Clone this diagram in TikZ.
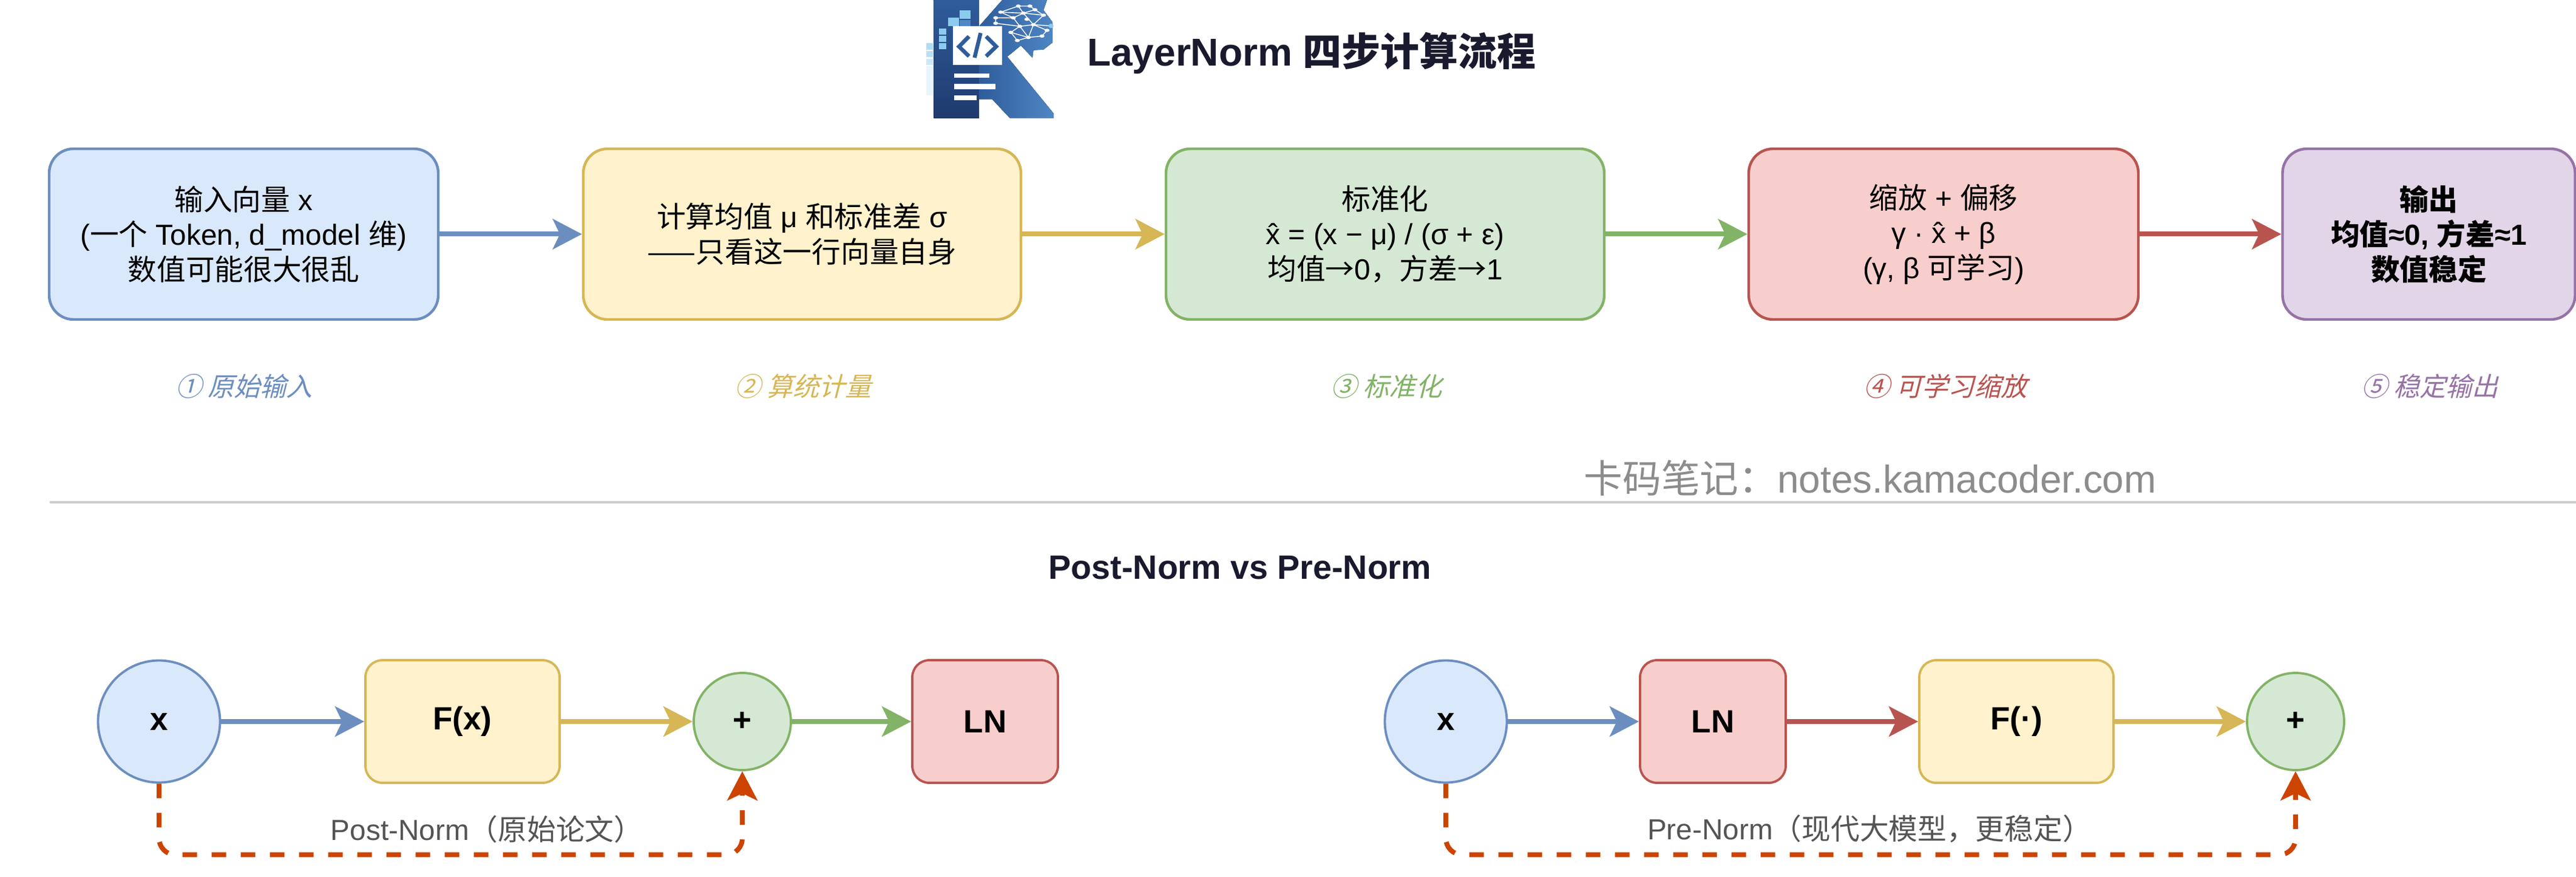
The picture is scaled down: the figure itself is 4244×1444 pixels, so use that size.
\documentclass[tikz,border=0pt]{standalone}
\usepackage{fontspec}
\usetikzlibrary{arrows.meta}
\setmainfont{Liberation Sans}
\newfontfamily\cjk{Noto Sans CJK SC}
\newfontfamily\cjkslant[FakeSlant=0.25]{Noto Sans CJK SC}

\definecolor{BlueFill}{HTML}{DAE8FC}
\definecolor{BlueLine}{HTML}{6C8EBF}
\definecolor{YellowFill}{HTML}{FFF2CC}
\definecolor{YellowLine}{HTML}{D6B656}
\definecolor{GreenFill}{HTML}{D5E8D4}
\definecolor{GreenLine}{HTML}{82B366}
\definecolor{RedFill}{HTML}{F8CECC}
\definecolor{RedLine}{HTML}{B85450}
\definecolor{PurpleFill}{HTML}{E1D5E7}
\definecolor{PurpleLine}{HTML}{9673A6}
\definecolor{TitleInk}{HTML}{1A1A2E}
\definecolor{SkipLine}{HTML}{CC4400}
\definecolor{LogoDeep}{HTML}{1F3A6E}
\definecolor{LogoMid}{HTML}{2F5C9B}
\definecolor{LogoLight}{HTML}{4F86C4}
\definecolor{LogoSky}{HTML}{8CCBF0}

\tikzset{
	BigBox/.style={draw=#1Line, fill=#1Fill, line width=1.1pt, rounded corners=10pt, inner sep=0pt, align=center,
		minimum height=70.25pt, font=\fontsize{11.93}{14.4}\selectfont},
	SmallBox/.style={draw=#1Line, fill=#1Fill, line width=0.95pt, rounded corners=7pt, inner sep=0pt,
		minimum height=50.5pt, font=\fontsize{13.25}{15.9}\selectfont\bfseries},
	RoundNode/.style={draw=#1Line, fill=#1Fill, line width=0.95pt, circle, inner sep=0pt,
		font=\fontsize{13.25}{15.9}\selectfont\bfseries},
	StepNote/.style={text=#1Line, font=\fontsize{10.8}{13}\selectfont\cjkslant},
	FlowArrow/.style={draw=#1Line, line width=2pt, -{Stealth[length=12pt, width=12.4pt, inset=2.9pt]}},
	SkipArrow/.style={draw=SkipLine, line width=2pt, dash pattern=on 6pt off 6pt, rounded corners=6.75pt,
		-{Stealth[length=12pt, width=12.4pt, inset=2.9pt]}},
	SkipNote/.style={text=black!67, font=\fontsize{11.93}{14.4}\selectfont},
}

\begin{document}
\begin{tikzpicture}[x=0.25pt, y=-0.25pt]
	\useasboundingbox (0,0) rectangle (4244,1444);

	% Logo
	\begin{scope}[shift={(1400,0)}, xscale=0.829, yscale=0.3333]
		\foreach \ya/\yb/\shade in {213/245/70, 252/283/60, 290/320/45, 327/470/20} {
			\fill[LogoSky!\shade!white] (152,\ya) rectangle (165,\yb);
		}
		\fill[top color=LogoMid, bottom color=LogoDeep] (167,0) rectangle (257,583);
		\fill[left color=LogoMid, right color=LogoLight]
			(303,0) -- (392,0) -- (385,50) -- (403,110) -- (403,210) -- (385,245) -- (365,248) -- (363,285)
			-- (340,225) -- (313,280) -- (405,560) -- (405,583) -- (318,583) -- (283,490) -- (257,490) -- (257,130) -- cycle;
		\fill[LogoSky] (218,50) rectangle (240,92);
		\fill[LogoLight] (218,98) rectangle (240,128);
		\fill[LogoSky] (195,88) rectangle (217,130);
		\foreach \ya/\yb in {142/172, 178/208, 214/244} {
			\fill[LogoSky] (177,\ya) rectangle (192,\yb);
		}
		\fill[white] (205,130) rectangle (303,320);
		\draw[LogoMid, line width=1.6pt] (237,180) -- (217,230) -- (237,278);
		\draw[LogoMid, line width=1.6pt] (260,163) -- (248,285);
		\draw[LogoMid, line width=1.6pt] (271,180) -- (291,230) -- (271,278);
		\fill[white] (207,362) rectangle (278,385);
		\fill[white] (207,415) rectangle (290,440);
		\fill[white] (207,470) rectangle (252,495);
		\draw[white, line width=0.35pt]
			(335,30) -- (300,60) -- (325,88) -- (290,88) -- (290,115) -- (338,130) -- (320,160) -- (333,200)
			(335,30) -- (358,30) -- (368,48) -- (385,75) -- (365,122) -- (392,150) -- (382,178) -- (355,185) -- (333,200)
			(335,30) -- (345,65) -- (325,88) -- (338,130) -- (355,185) -- (365,122) -- (338,130)
			(368,48) -- (345,65) -- (385,75) (345,65) -- (365,122) -- (400,128) (300,60) -- (345,65) (320,160) -- (355,185);
		\foreach \px/\py in {335/30, 358/30, 368/48, 300/60, 345/65, 385/75, 325/88, 290/88, 352/95, 290/115,
			338/130, 365/122, 392/150, 320/160, 355/185, 382/178, 333/200} {
			\fill[white] (\px,\py) ellipse (5 and 8);
		}
		\fill[LogoSky] (400,128) ellipse (5 and 11);
	\end{scope}

	% Titles
	\node[text=TitleInk, font=\fontsize{16}{19.2}\selectfont\bfseries] (MainTitle) at (2161,87) {LayerNorm {\cjk 四步计算流程}};
	\node[text=TitleInk, font=\fontsize{13.9}{16.7}\selectfont\bfseries] (SubTitle) at (2043,935) {Post-Norm vs Pre-Norm};
	\node[text=black!45, font=\fontsize{15.95}{19.1}\selectfont] (WaterMark) at (3081,787) {{\cjk 卡码笔记：}notes.kamacoder.com};

	% Five steps
	\node[BigBox=Blue, minimum width=160.25pt] (StepInput) at (401.5,385.5) {{\cjk 输入向量} x\\({\cjk 一个} Token, d\_model {\cjk 维})\\{\cjk 数值可能很大很乱}};
	\node[BigBox=Yellow, minimum width=180.25pt] (StepStats) at (1321.5,385.5) {{\cjk 计算均值} μ {\cjk 和标准差} σ\\{\cjk ——只看这一行向量自身}};
	\node[BigBox=Green, minimum width=180.5pt] (StepNorm) at (2282,385.5) {{\cjk 标准化}\\x̂ = (x − μ) / (σ + ε)\\{\cjk 均值→}0{\cjk ，方差→}1};
	\node[BigBox=Red, minimum width=160.5pt] (StepScale) at (3202,385.5) {{\cjk 缩放} + {\cjk 偏移}\\γ · x̂ + β\\(γ, β {\cjk 可学习})};
	\node[BigBox=Purple, minimum width=120.5pt, font=\fontsize{11.93}{14.4}\selectfont\bfseries] (StepOutput) at (4001.5,385.5) {{\cjk 输出}\\{\cjk 均值}≈0, {\cjk 方差}≈1\\{\cjk 数值稳定}};
	\draw[FlowArrow=Blue] (StepInput) -- (StepStats);
	\draw[FlowArrow=Yellow] (StepStats) -- (StepNorm);
	\draw[FlowArrow=Green] (StepNorm) -- (StepScale);
	\draw[FlowArrow=Red] (StepScale) -- (StepOutput);

	\node[StepNote=Blue] (NoteInput) at (402,636) {① 原始输入};
	\node[StepNote=Yellow] (NoteStats) at (1323,636) {② 算统计量};
	\node[StepNote=Green] (NoteNorm) at (2284,636) {③ 标准化};
	\node[StepNote=Red] (NoteScale) at (3205,636) {④ 可学习缩放};
	\node[StepNote=Purple] (NoteOutput) at (4003,636) {⑤ 稳定输出};

	% Divider
	\coordinate (RuleLeft) at (82,827);
	\coordinate (RuleRight) at (4244,827);
	\draw[black!20, line width=0.9pt] (RuleLeft) -- (RuleRight);

	% Post-Norm
	\node[RoundNode=Blue, minimum size=50.25pt] (PostX) at (262,1188) {x};
	\node[SmallBox=Yellow, minimum width=80pt] (PostF) at (762,1188) {F(x)};
	\node[RoundNode=Green, minimum size=40pt] (PostAdd) at (1223,1188) {+};
	\node[SmallBox=Red, minimum width=60pt] (PostLN) at (1623,1188) {LN};
	\draw[FlowArrow=Blue] (PostX) -- (PostF);
	\draw[FlowArrow=Yellow] (PostF) -- (PostAdd);
	\draw[FlowArrow=Green] (PostAdd) -- (PostLN);
	\draw[SkipArrow] (PostX.south) -- ++(0,117) -| (PostAdd.south);
	\node[SkipNote] (PostNote) at (802,1365) {Post-Norm{\cjk （原始论文）}};

	% Pre-Norm
	\node[RoundNode=Blue, minimum size=50.25pt] (PreX) at (2382,1188) {x};
	\node[SmallBox=Red, minimum width=60pt] (PreLN) at (2822,1188) {LN};
	\node[SmallBox=Yellow, minimum width=80pt] (PreF) at (3322,1188) {F(·)};
	\node[RoundNode=Green, minimum size=40pt] (PreAdd) at (3782,1188) {+};
	\draw[FlowArrow=Blue] (PreX) -- (PreLN);
	\draw[FlowArrow=Red] (PreLN) -- (PreF);
	\draw[FlowArrow=Yellow] (PreF) -- (PreAdd);
	\draw[SkipArrow] (PreX.south) -- ++(0,117) -| (PreAdd.south);
	\node[SkipNote] (PreNote) at (3080,1365) {Pre-Norm{\cjk （现代大模型，更稳定）}};
\end{tikzpicture}
\end{document}
